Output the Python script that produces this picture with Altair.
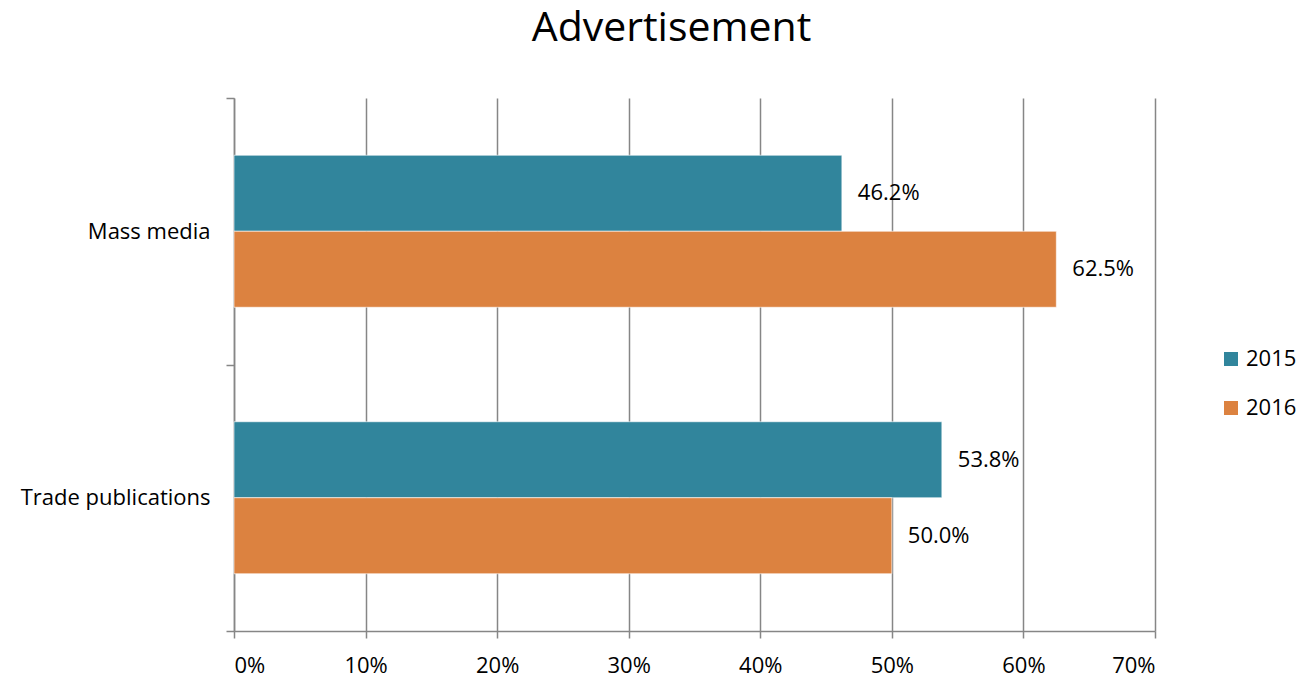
import altair as alt
import pandas as pd

categories = ["Mass media", "Mass media", "Trade publications", "Trade publications"]
years = ["2015", "2016", "2015", "2016"]
values = [0.462, 0.625, 0.538, 0.500]
labels = ["46.2%", "62.5%", "53.8%", "50.0%"]

df = pd.DataFrame({"category": categories, "year": years, "value": values, "label": labels})

FONT = "Open Sans"
FS = 22
colors = ["#31859C", "#DC8240"]
cat_order = ["Mass media", "Trade publications"]

y_enc = alt.Y("category:N", title=None, sort=cat_order,
              scale=alt.Scale(paddingInner=0, paddingOuter=0),
              axis=alt.Axis(tickBand="extent", domainColor="#868686", domainWidth=1.5,
                            tickColor="#868686", tickWidth=1.5, tickSize=8,
                            labelFontSize=FS, labelFont=FONT, labelColor="#000000",
                            labelPadding=16, labelLimit=400, grid=False))
x_enc = alt.X("value:Q", title=None,
              scale=alt.Scale(domain=[0, 0.7], nice=False),
              axis=alt.Axis(format=".0%", values=[0, 0.1, 0.2, 0.3, 0.4, 0.5, 0.6, 0.7],
                            grid=True, gridColor="#868686", gridWidth=1.5,
                            domainColor="#868686", domainWidth=1.5,
                            tickColor="#868686", tickWidth=1.5, tickSize=7,
                            labelFontSize=FS, labelFont=FONT, labelColor="#000000",
                            labelPadding=17))
yoff = alt.YOffset("year:N", sort=["2015", "2016"],
                   scale=alt.Scale(paddingInner=0, paddingOuter=0.753))

bars = alt.Chart(df).mark_bar(stroke="#ffffff", strokeWidth=1, strokeOpacity=0.6).encode(
    x=x_enc, y=y_enc, yOffset=yoff,
    color=alt.Color("year:N", scale=alt.Scale(domain=["2015", "2016"], range=colors),
                    legend=alt.Legend(title=None, orient="none", legendX=986, legendY=250,
                                      symbolType="square", symbolSize=196, symbolStrokeWidth=0,
                                      labelFontSize=FS, labelFont=FONT, labelColor="#000000",
                                      rowPadding=27, labelOffset=4))
)

text = alt.Chart(df).mark_text(align="left", baseline="middle", dx=16, fontSize=FS,
                               font=FONT, color="#000000").encode(
    x="value:Q", y=alt.Y("category:N", sort=cat_order), yOffset=yoff,
    text="label:N"
)

chart = (bars + text).properties(
    width=921, height=533,
    title=alt.TitleParams("Advertisement", fontSize=41, font=FONT, fontWeight="normal",
                          color="#000000", anchor="middle", dx=-23, offset=37),
    autosize=alt.AutoSizeParams(type="none"),
    padding={"left": 234, "top": 98, "right": 146, "bottom": 46},
    view=alt.ViewBackground(stroke="transparent", strokeWidth=0),
).configure_view(stroke="transparent", strokeWidth=0).configure(background="#ffffff")

chart.save("out.html", embed_options={"renderer": "svg", "actions": False})
